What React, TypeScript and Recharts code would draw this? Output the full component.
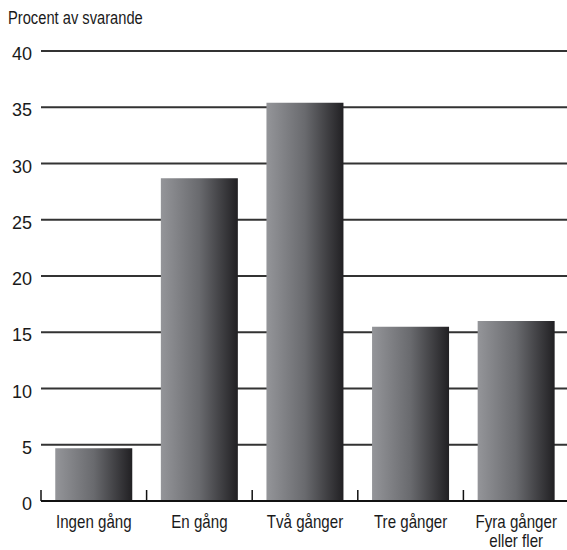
import { Bar, BarChart, CartesianGrid, XAxis, YAxis } from "recharts";

const categories = ["Ingen gång", "En gång", "Två gånger", "Tre gånger", "Fyra gånger\neller fler"];
const shares = [4.7, 28.7, 35.4, 15.5, 16.0];
const yTicks = [0, 5, 10, 15, 20, 25, 30, 35, 40];
const yTitle = "Procent av svarande";

const data = categories.map((name, i) => ({ name, value: shares[i] }));

const FONT = "'Liberation Sans', Arial, sans-serif";
// the original uses a condensed face; squeeze Liberation Sans horizontally instead
const SQUEEZE = 0.84;

function CategoryTick(props: any) {
  const { x, y, payload } = props;
  const half = payload?.offset ?? 52.8;
  const lines = String(payload.value).split("\n");
  return (
    <g>
      <line x1={x - half} x2={x - half} y1={y - 11} y2={y} stroke="#111" strokeWidth={1.5} />
      {lines.map((line: string, i: number) => (
        <text
          key={i}
          transform={`translate(${x},${y + 27 + i * 18.5}) scale(${SQUEEZE},1)`}
          textAnchor="middle"
          fontFamily={FONT}
          fontSize={18}
          fill="#1a1a1a"
        >
          {line}
        </text>
      ))}
    </g>
  );
}

function ValueTick(props: any) {
  const { x, y, payload } = props;
  return (
    <text x={x} y={y + 9} textAnchor="end" fontFamily={FONT} fontSize={18} fill="#1a1a1a">
      {payload.value}
    </text>
  );
}

export default function App() {
  return (
    <div style={{ position: "relative", width: 567, height: 550, overflow: "hidden", background: "#fff" }}>
      <style>{"body{margin:0}"}</style>
      <svg width={567} height={40} style={{ position: "absolute", left: 0, top: 0 }}>
        <text
          transform={`translate(8,24) scale(${SQUEEZE},1)`}
          fontFamily={FONT}
          fontSize={17.5}
          fill="#1a1a1a"
        >
          {yTitle}
        </text>
      </svg>
      <BarChart
        width={569}
        height={550}
        data={data}
        margin={{ top: 51, right: 0, bottom: 0, left: 0 }}
        barCategoryGap="13.5%"
      >
        <defs>
          <linearGradient id="barGrad" x1="0" y1="0" x2="1" y2="0">
            <stop offset="0%" stopColor="#949599" />
            <stop offset="50%" stopColor="#696a6e" />
            <stop offset="100%" stopColor="#212023" />
          </linearGradient>
        </defs>
        <CartesianGrid vertical={false} stroke="#333" strokeWidth={2} />
        <XAxis
          dataKey="name"
          height={49}
          tickLine={false}
          tickSize={0}
          tickMargin={0}
          interval={0}
          axisLine={{ stroke: "#111", strokeWidth: 2 }}
          tick={<CategoryTick />}
        />
        <YAxis
          width={41}
          domain={[0, 40]}
          ticks={yTicks}
          axisLine={false}
          tickLine={false}
          tickSize={0}
          tickMargin={9}
          tick={<ValueTick />}
        />
        <Bar dataKey="value" fill="url(#barGrad)" isAnimationActive={false} />
      </BarChart>
    </div>
  );
}
